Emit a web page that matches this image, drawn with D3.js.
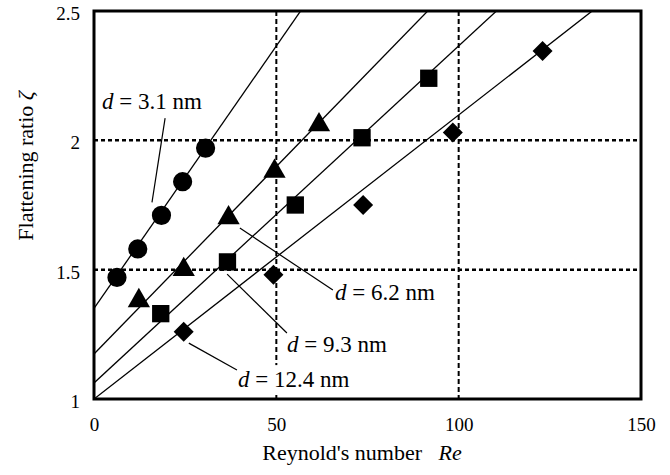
<!DOCTYPE html>
<html>
<head>
<meta charset="utf-8">
<script src="https://cdn.jsdelivr.net/npm/d3@7"></script>
<style>
  body { margin: 0; background: #fff; }
  svg { display: block; }
</style>
</head>
<body>
<svg width="670" height="475"></svg>
<script>
"use strict";
//data (Re, flattening ratio)
var re31 = [6.3, 12.0, 18.5, 24.3, 30.6];
var zeta31 = [1.47, 1.58, 1.71, 1.84, 1.97];
var re62 = [12.3, 24.6, 36.9, 49.5, 61.7];
var zeta62 = [1.38, 1.50, 1.70, 1.88, 2.06];
var re93 = [18.3, 36.6, 55.2, 73.5, 91.8];
var zeta93 = [1.33, 1.53, 1.75, 2.01, 2.24];
var re124 = [24.6, 49.2, 73.8, 98.4, 123.0];
var zeta124 = [1.26, 1.48, 1.75, 2.03, 2.345];

//fitted straight lines, zeta = a + b*Re
var fitA = [1.35, 1.174, 1.062, 1.0];
var fitB = [0.0203, 0.01449, 0.01303, 0.01098];

var labelNums = ["3.1", "6.2", "9.3", "12.4"];
var xTicks = [0, 50, 100, 150];
var yTicks = [1, 1.5, 2, 2.5];
var gridX = [50, 100];
var gridY = [1.5, 2];

var FONT = "'Liberation Serif'";

var svg = d3.select("svg");
var x = d3.scaleLinear().domain([0, 150]).range([94, 641]);
var y = d3.scaleLinear().domain([1, 2.5]).range([399, 11]);

var seriesRe = [re31, re62, re93, re124];
var seriesZeta = [zeta31, zeta62, zeta93, zeta124];
var symbols = [
    d3.symbol().type(d3.symbolCircle).size(290),
    d3.symbol().type(d3.symbolTriangle).size(215),
    d3.symbol().type(d3.symbolSquare).size(300),
    d3.symbol().type(d3.symbolSquare).size(200)
];

svg.append("defs").append("clipPath")
    .attr("id", "plotclip")
    .append("rect")
    .attr("x", x(0)).attr("y", y(2.5))
    .attr("width", x(150) - x(0)).attr("height", y(1) - y(2.5));

//dotted grid lines
svg.selectAll(".gy").data(gridY).enter().append("line")
    .attr("x1", x(0)).attr("x2", x(150))
    .attr("y1", function (d) { return y(d); })
    .attr("y2", function (d) { return y(d); })
    .attr("stroke", "#000").attr("stroke-width", 2.5)
    .attr("stroke-dasharray", "4,3");
svg.selectAll(".gx").data(gridX).enter().append("line")
    .attr("y1", y(2.5)).attr("y2", y(1))
    .attr("x1", function (d) { return x(d); })
    .attr("x2", function (d) { return x(d); })
    .attr("stroke", "#000").attr("stroke-width", 2)
    .attr("stroke-dasharray", "5,3");

//fit lines
var fits = svg.append("g").attr("clip-path", "url(#plotclip)");
fitA.forEach(function (a, i) {
    fits.append("line")
        .attr("x1", x(0)).attr("y1", y(a))
        .attr("x2", x(150)).attr("y2", y(a + fitB[i] * 150))
        .attr("stroke", "#000").attr("stroke-width", 1.3);
});

//markers
seriesRe.forEach(function (res, i) {
    svg.append("g").selectAll("path")
        .data(res.map(function (r, j) { return [r, seriesZeta[i][j]]; }))
        .enter().append("path")
        .attr("d", symbols[i])
        .attr("fill", "#000")
        .attr("transform", function (d) {
            return "translate(" + x(d[0]) + "," + y(d[1]) + ")" + (i === 3 ? " rotate(45)" : "");
        });
});

//annotation labels: text start, baseline, leader line from / to (data units)
var labelPos = [[2.2, 2.12], [66.1, 1.383], [52.9, 1.182], [39.5, 1.046]];
var leaderFrom = [[19.5, 2.086], [40.0, 1.661], [36.5, 1.483], [26.0, 1.216]];
var leaderTo = [[15.9, 1.76], [65.5, 1.421], [52.9, 1.255], [39.2, 1.112]];

labelNums.forEach(function (n, i) {
    var g = svg.append("g");
    var box = g.append("rect").attr("fill", "#fff");
    var t = g.append("text")
        .attr("x", x(labelPos[i][0]))
        .attr("y", y(labelPos[i][1]))
        .style("font-family", FONT)
        .style("font-size", "23px");
    t.append("tspan").style("font-style", "italic").text("d");
    t.append("tspan").text(" = " + n + " nm");
    var bb = t.node().getBBox();
    box.attr("x", bb.x - 2).attr("y", bb.y - 2)
        .attr("width", bb.width + 16).attr("height", bb.height + 2);
    svg.append("line")
        .attr("x1", x(leaderFrom[i][0])).attr("y1", y(leaderFrom[i][1]))
        .attr("x2", x(leaderTo[i][0])).attr("y2", y(leaderTo[i][1]))
        .attr("stroke", "#000").attr("stroke-width", 1.2);
});

//frame
svg.append("rect")
    .attr("x", x(0)).attr("y", y(2.5))
    .attr("width", x(150) - x(0)).attr("height", y(1) - y(2.5))
    .attr("fill", "none").attr("stroke", "#000").attr("stroke-width", 3);

//axes (labels only)
var xAxis = svg.append("g")
    .attr("transform", "translate(0," + y(1) + ")")
    .call(d3.axisBottom(x).tickValues(xTicks).tickSize(0).tickPadding(19).tickFormat(d3.format("")));
var yAxis = svg.append("g")
    .attr("transform", "translate(" + x(0) + ",0)")
    .call(d3.axisLeft(y).tickValues(yTicks).tickSize(0).tickPadding(14).tickFormat(d3.format("")));
[xAxis, yAxis].forEach(function (ax) {
    ax.select(".domain").remove();
    ax.selectAll("text")
        .style("font-family", FONT).style("font-size", "19px")
        .attr("fill", "#000");
});
yAxis.selectAll("text").attr("dy", "0.45em");

//axis titles
var xt = svg.append("text")
    .attr("x", 362).attr("y", 460)
    .attr("text-anchor", "middle")
    .style("font-family", FONT)
    .style("font-size", "22px");
xt.append("tspan").text("Reynold's number\u00a0\u00a0\u00a0");
xt.append("tspan").style("font-style", "italic").text("Re");

var yt = svg.append("text")
    .attr("transform", "translate(33,166) rotate(-90)")
    .attr("text-anchor", "middle")
    .style("font-family", FONT)
    .style("font-size", "22px");
yt.append("tspan").text("Flattening ratio\u00a0");
yt.append("tspan").style("font-style", "italic").text("ζ");
</script>
</body>
</html>
